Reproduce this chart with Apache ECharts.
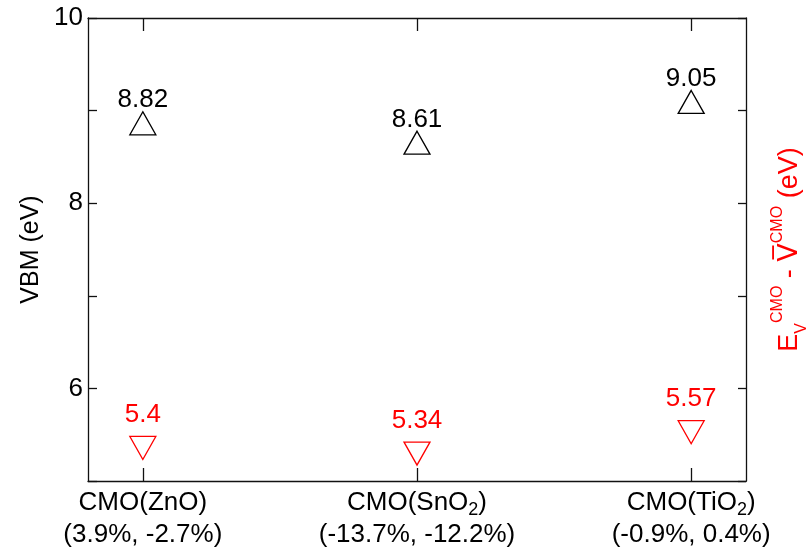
<!DOCTYPE html>
<html>
<head>
<meta charset="utf-8">
<script src="https://cdn.jsdelivr.net/npm/echarts@6/dist/echarts.min.js"></script>
<style>
  html, body { margin: 0; padding: 0; background: #fff; }
  #chart { width: 806px; height: 557px; background: #fff; }
</style>
</head>
<body>
<div id="chart"></div>
<script>
// ---- data ----
const xPositions = [1, 2, 3];
const categoryBase = ['CMO(ZnO', 'CMO(SnO', 'CMO(TiO'];
const categorySub = ['', '2', '2'];
const strainLabels = ['(3.9%, -2.7%)', '(-13.7%, -12.2%)', '(-0.9%, 0.4%)'];
const vbmValues = [8.82, 8.61, 9.05];
const diffValues = [5.4, 5.34, 5.57];
const yTickLabels = [6, 8, 10];

const FONT = 'Liberation Sans, Arial, Helvetica, sans-serif';
const W = 806;
const X_MIN = 0.8, X_MAX = 3.2;

function categoryLabel(v) {
  const i = xPositions.indexOf(v);
  if (i < 0) return '';
  let first = '{a|' + categoryBase[i] + '}';
  if (categorySub[i]) first += '{s|' + categorySub[i] + '}';
  first += '{a|)}';
  return first + '\n{a|' + strainLabels[i] + '}';
}

const chart = echarts.init(document.getElementById('chart'), null, { renderer: 'canvas' });

const ls = () => ({ color: '#111', width: 1.3 });
const gridRect = { left: 88, right: 60, top: 18, bottom: 76, outerBoundsMode: 'none' };

// tick-only grid: same scale as the main grid, but spanning whole units so ticks land on 1, 2, 3
const pxPerUnit = (W - gridRect.left - gridRect.right) / (X_MAX - X_MIN);
const tickMin = Math.floor(X_MIN), tickMax = Math.ceil(X_MAX);
const tickGrid = {
  left: gridRect.left - (X_MIN - tickMin) * pxPerUnit,
  right: gridRect.right - (tickMax - X_MAX) * pxPerUnit,
  top: gridRect.top, bottom: gridRect.bottom, outerBoundsMode: 'none'
};

const option = {
  animation: false,
  grid: [Object.assign({}, gridRect), tickGrid],
  xAxis: [
    {
      type: 'value', gridIndex: 0, position: 'bottom', min: X_MIN, max: X_MAX,
      axisLine: { show: true, lineStyle: ls() },
      axisTick: { show: false },
      splitLine: { show: false },
      axisLabel: {
        show: true, margin: 6, customValues: xPositions,
        formatter: categoryLabel,
        rich: {
          a: { fontSize: 26, lineHeight: 32, color: '#000', fontFamily: FONT },
          s: { fontSize: 18, lineHeight: 12, verticalAlign: 'bottom', color: '#000', fontFamily: FONT }
        }
      }
    },
    {
      type: 'value', gridIndex: 0, position: 'top', min: X_MIN, max: X_MAX,
      axisLine: { show: true, lineStyle: ls() },
      axisTick: { show: false },
      splitLine: { show: false },
      axisLabel: { show: false }
    },
    {
      type: 'value', gridIndex: 1, position: 'bottom', min: tickMin, max: tickMax, interval: 1,
      axisLine: { show: false },
      axisTick: { show: true, inside: true, length: 13, lineStyle: ls() },
      splitLine: { show: false },
      axisLabel: { show: false }
    },
    {
      type: 'value', gridIndex: 1, position: 'top', min: tickMin, max: tickMax, interval: 1,
      axisLine: { show: false },
      axisTick: { show: true, inside: true, length: 13, lineStyle: ls() },
      splitLine: { show: false },
      axisLabel: { show: false }
    }
  ],
  yAxis: [
    {
      type: 'value', gridIndex: 0, position: 'left', min: 5, max: 10, interval: 1,
      name: 'VBM (eV)', nameLocation: 'middle', nameGap: 42, nameRotate: 90,
      nameTextStyle: { fontSize: 25, color: '#000', fontFamily: FONT },
      axisLine: { show: true, lineStyle: ls() },
      axisTick: { show: true, inside: true, length: 9, lineStyle: ls() },
      splitLine: { show: false },
      axisLabel: {
        margin: 5, fontSize: 26, color: '#000', fontFamily: FONT,
        formatter: v => (yTickLabels.indexOf(v) >= 0 ? String(v) : '')
      }
    },
    {
      type: 'value', gridIndex: 0, position: 'right', min: 5, max: 10, interval: 1,
      name: '{m|E}{sb|V}{sp|CMO}{m| - }{v|V\u0305}{sp|CMO}{m| (eV)}',
      nameLocation: 'middle', nameGap: 24, nameRotate: 90,
      nameTextStyle: {
        color: '#ff0000',
        rich: {
          m: { fontSize: 27, lineHeight: 40, color: '#ff0000', fontFamily: FONT },
          v: { fontSize: 27, lineHeight: 40, color: '#ff0000', fontFamily: 'DejaVu Sans, ' + FONT },
          sp: { fontSize: 16, lineHeight: 16, verticalAlign: 'top', color: '#ff0000', fontFamily: FONT },
          sb: { fontSize: 16, lineHeight: 14, verticalAlign: 'bottom', color: '#ff0000', fontFamily: FONT }
        }
      },
      axisLine: { show: true, lineStyle: ls() },
      axisTick: { show: true, inside: true, length: 8, lineStyle: ls() },
      splitLine: { show: false },
      axisLabel: { show: false }
    },
    {
      type: 'value', gridIndex: 1, position: 'left', min: 5, max: 10, interval: 1,
      axisLine: { show: false }, axisTick: { show: false }, axisLabel: { show: false },
      splitLine: { show: false }
    }
  ],
  series: [
    {
      name: 'VBM', type: 'scatter', xAxisIndex: 0, yAxisIndex: 0,
      data: vbmValues.map((v, i) => [xPositions[i], v]),
      symbol: 'triangle', symbolSize: [26, 23], symbolOffset: [0, -4],
      itemStyle: { color: 'rgba(0,0,0,0)', borderColor: '#000', borderWidth: 1.3, opacity: 1 },
      label: {
        show: true, position: 'top', distance: -3,
        fontSize: 26, lineHeight: 28, color: '#000', fontFamily: FONT,
        formatter: p => String(p.value[1])
      }
    },
    {
      name: 'Diff', type: 'scatter', xAxisIndex: 0, yAxisIndex: 1,
      data: diffValues.map((v, i) => [xPositions[i], v]),
      symbol: 'path://M0 0L2 0L1 1.732Z', symbolSize: [26, 23], symbolOffset: [0, 4],
      itemStyle: { color: 'rgba(0,0,0,0)', borderColor: '#ff0000', borderWidth: 1.3, opacity: 1 },
      label: {
        show: true, position: 'top', distance: 7,
        fontSize: 26, lineHeight: 28, color: '#ff0000', fontFamily: FONT,
        formatter: p => String(p.value[1])
      }
    }
  ]
};

chart.setOption(option);
</script>
</body>
</html>
